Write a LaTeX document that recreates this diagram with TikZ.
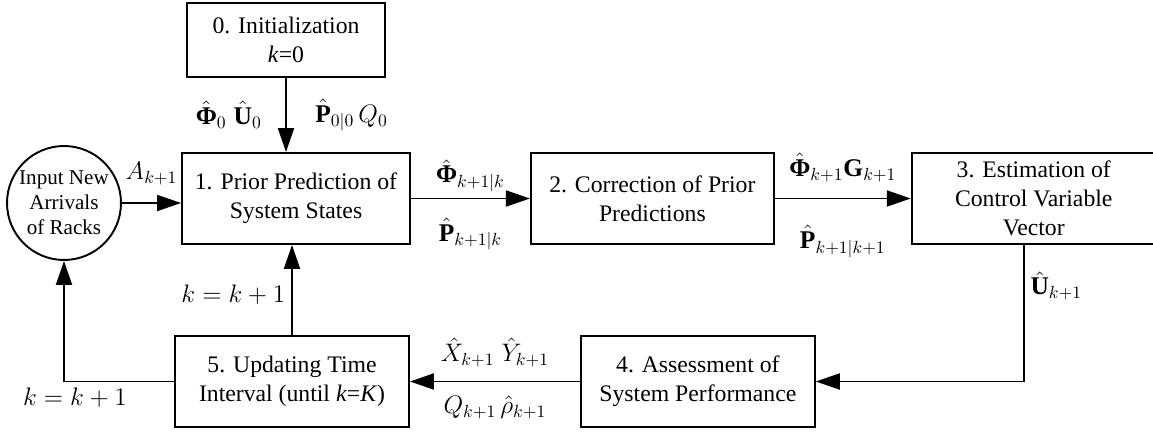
\documentclass[tikz,border=0pt]{standalone}
\usepackage{amsmath}
\usepackage{fontspec}
\setmainfont{Liberation Serif}
\usetikzlibrary{
    arrows.meta,
    positioning
}
\newcommand{\bPhi}{\text{\textbf{Φ}}}

\begin{document}
\begin{tikzpicture}[
    x=0.02cm, y=-0.02cm,
    every node/.style={font=\rmfamily\fontsize{13.5}{16.5}\selectfont},
    stage/.style={rectangle, draw, line width=1.1pt, align=center,
      minimum height=1.82cm},
    source/.style={circle, draw, line width=1.1pt, align=center,
      minimum size=2.28cm, inner sep=0pt, font=\rmfamily\fontsize{12}{14.2}\selectfont},
    lbl/.style={font=\fontsize{14.5}{17}\selectfont},
    arrow/.style={-{Triangle[length=4.8mm, width=3.2mm]}, line width=1.1pt}
]
\useasboundingbox (0,0) rectangle (1153,436);
\node[stage, minimum width=3.96cm, minimum height=1.48cm] (init) at (286,40) {0. Initialization\\\textit{k}=0};
\node[stage, minimum width=4.56cm] (prior) at (296,198.5) {1. Prior Prediction of\\System States};
\node[stage, minimum width=4.86cm, right=2.38cm of prior] (correct) {2. Correction of Prior\\Predictions};
\node[stage, minimum width=4.88cm, right=2.72cm of correct] (control) {3. Estimation of\\Control Variable\\Vector};
\node[stage, minimum width=4.68cm] (update) at (292,381.5) {5. Updating Time\\Interval (until \textit{k}=\textit{K})};
\node[stage, minimum width=4.68cm, right=3.4cm of update] (assess) {4. Assessment of\\System Performance};
\node[source] (racks) at (64,203) {Input New\\Arrivals\\of Racks};
\coordinate (ctrlout) at ([xshift=-0.2cm]control.south);
\draw[arrow] (init.south) -- node[lbl, left=0.35cm]{$\hat{\bPhi}_0\;\hat{\mathbf{U}}_0$}
  node[lbl, right=0.45cm]{$\hat{\mathbf{P}}_{0|0}\,Q_0$} (init.south |- prior.north);
\draw[arrow] (racks.east) -- node[lbl, above=0.22cm]{$A_{k+1}$} (racks.east -| prior.west);
\draw[arrow] (prior) -- node[lbl, above]{$\hat{\bPhi}_{k+1|k}$}
  node[lbl, below=0.25cm]{$\hat{\mathbf{P}}_{k+1|k}$} (correct);
\draw[arrow] (correct) -- node[lbl, above=0.2cm]{$\hat{\bPhi}_{k+1}\mathbf{G}_{k+1}$}
  node[lbl, below=0.4cm]{$\hat{\mathbf{P}}_{k+1|k+1}$} (control);
\draw[arrow] (ctrlout) |- node[lbl, pos=0.15, right]{$\hat{\mathbf{U}}_{k+1}$} (assess.east);
\draw[arrow] (assess) -- node[lbl, above=0.15cm]{$\hat{X}_{k+1}\;\hat{Y}_{k+1}$}
  node[lbl, below=0.15cm]{$Q_{k+1}\,\hat{\rho}_{k+1}$} (update);
\draw[arrow] (update.north) -- node[lbl, left, pos=0.45]{$k=k+1$} (update.north |- prior.south);
\draw[arrow] (update.west) -| node[lbl, pos=0.45, below]{$k=k+1$} (racks.south);
\end{tikzpicture}
\end{document}
